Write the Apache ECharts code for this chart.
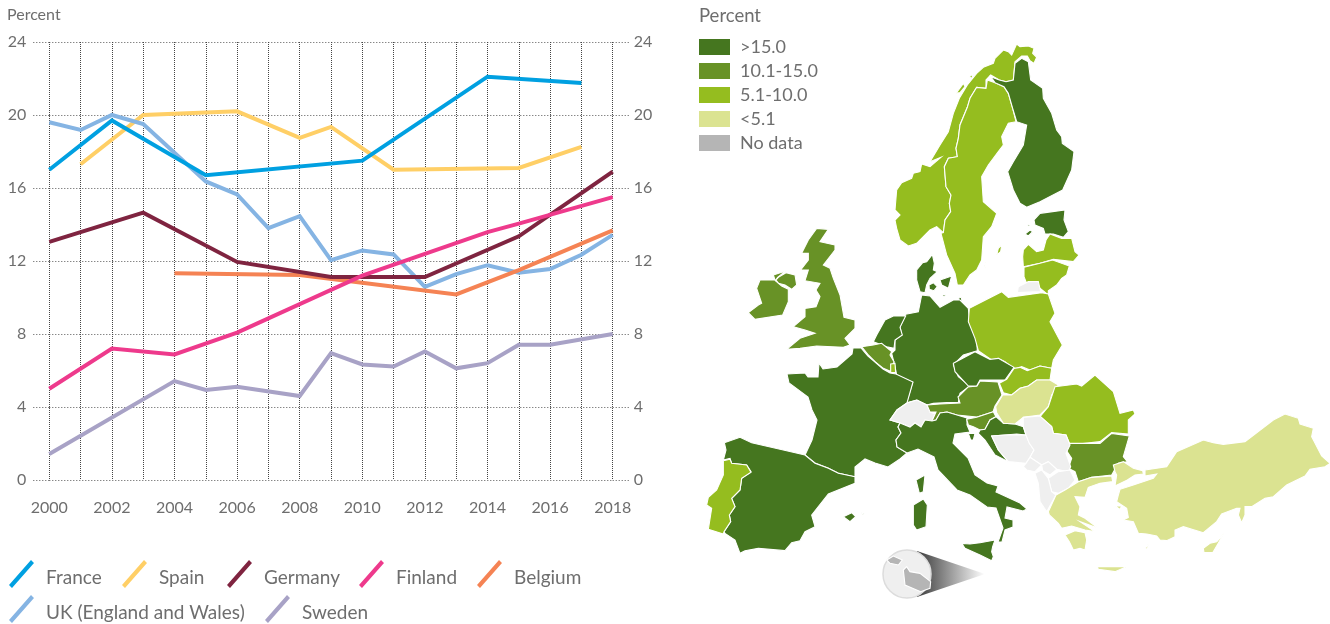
<!DOCTYPE html>
<html>
<head>
<meta charset="utf-8">
<title>Percent</title>
<style>
  html, body { margin: 0; padding: 0; background: #fff; }
  #chart { width: 1330px; height: 624px; }
</style>
<script src="https://cdn.jsdelivr.net/npm/echarts@6/dist/echarts.min.js"></script>
</head>
<body>
<div id="chart"></div>
<script>
// line chart data, null = no reading that year, lines just run over those
const years = ['2000','2001','2002','2003','2004','2005','2006','2007','2008','2009','2010','2011','2012','2013','2014','2015','2016','2017','2018'];
const france  = [17.0,null,19.7,null,null,16.7,null,null,null,null,17.5,null,null,null,22.1,null,null,21.75,null];
const spain   = [null,17.3,null,20.0,null,null,20.2,null,18.75,19.35,null,17.0,null,null,null,17.1,null,18.25,null];
const germany = [13.05,null,null,14.65,null,null,11.95,null,null,11.12,null,null,11.12,null,null,13.35,null,null,16.9];
const finland = [5.0,null,7.2,null,6.88,null,8.08,null,null,null,11.2,null,null,null,13.58,14.05,null,null,15.5];
const belgium = [null,null,null,null,11.33,null,null,null,11.23,null,null,null,null,10.17,null,11.5,null,null,13.68];
const uk      = [19.6,19.18,20.0,19.5,null,16.36,15.65,13.8,14.46,12.05,12.58,12.36,10.58,11.28,11.77,11.36,11.56,12.34,13.43];
const sweden  = [1.42,null,null,null,5.42,4.93,5.11,null,4.6,6.95,6.33,6.22,7.04,6.12,6.4,7.41,7.41,null,8.0];

const lineNames  = ['Spain','Sweden','UK (England and Wales)','Belgium','Germany','Finland','France'];
const lineValues = [spain, sweden, uk, belgium, germany, finland, france];
const lineColors = ['#FFCF66','#A8A2C6','#85B4E3','#F58354','#7F2440','#EE3A8C','#00A0E1'];

// legend order as printed, with where each entry sits
const legendNames = ['France','Spain','Germany','Finland','Belgium','UK (England and Wales)','Sweden'];
const legendLefts = [9,122,227,359,477,9,265];
const legendTops  = [560,560,560,560,560,595,595];

// map classes, values estimated inside the class the colour shows
const classLabels = ['>15.0','10.1-15.0','5.1-10.0','<5.1','No data'];
const classColors = ['#45761F','#689226','#95BD1F','#DBE391','#B5B5B5'];
const mapNames  = ['France','Spain','Germany','Finland','Netherlands','Denmark','Estonia','Czechia','Italy','Sardinia','Corsica','Sicily','Balearics','Croatia','UK','N. Ireland','Ireland','Belgium','Austria','Slovenia','Bulgaria','Norway','Sweden','Latvia','Lithuania','Poland','Slovakia','Romania','Luxembourg','Portugal','Hungary','Greece','Turkey','Cyprus','Malta','Gozo'];
const mapValues = [21.75,18.25,16.9,15.5,16,16,16,16,17,17,17,17,18.25,16,13.4,13.4,12,13.7,12,12,12,8,8,8,8,8,8,8,8,8,4,4,4,4,-1,-1];

const crop = (ox, oy, pts) => {
  const out = [];
  for (let i = 0; i < pts.length; i += 2) out.push([ox + pts[i] / 3, oy + pts[i + 1] / 3]);
  out.push(out[0]);
  return out;
};
const north = pts => crop(880, 30, pts);
const west  = pts => crop(740, 220, pts);
const mid   = pts => crop(940, 280, pts);
const south = pts => crop(690, 420, pts);
const east  = pts => crop(1020, 400, pts);
const page  = pts => crop(0, 0, pts.map(v => v * 3));

const shapes = {
  Norway: [north([410,42,420,50,445,48,462,55,458,70,470,82,462,100,450,92,442,78,425,78,405,95,400,150,378,155,358,150,332,135,318,150,318,175,290,172,270,205,262,232,240,285,235,325,228,355,232,380,205,385,193,410,198,470,213,495,208,520,212,545,195,570,190,608,170,590,150,600,110,640,85,648,60,630,50,595,45,570,60,555,45,540,50,480,65,458,95,445,100,430,120,425,125,402,150,410,183,382,150,395,180,345,205,305,220,250,238,205,262,165,290,130,310,112,340,100,345,85,370,60,385,65,395,75]),
    north([228,190,250,160,255,170,240,188]), north([268,140,280,132,275,145])],
  Sweden: [north([322,150,345,158,372,170,385,190,398,235,408,275,385,280,365,320,370,345,355,365,325,405,305,440,310,515,350,550,335,590,310,620,305,690,290,720,270,735,250,765,232,765,225,730,200,675,183,610,190,608,195,570,212,545,208,520,213,495,198,470,193,410,205,385,232,380,228,355,235,325,240,285,262,232,270,205,290,172,318,175]),
    north([350,675,355,655,365,645,362,665]), north([313,712,318,695,316,715])],
  Finland: [north([405,100,425,85,445,95,452,150,488,175,490,205,515,250,530,300,545,320,547,340,582,365,575,420,548,480,480,515,440,532,420,520,400,480,383,425,400,395,430,345,440,285,410,275,398,235,385,190,372,170,345,158,332,140,358,150,378,155,400,150])],
  Estonia: [north([462,570,480,550,555,540,552,570,565,605,550,622,520,612,495,612,490,595,465,585]),
    north([435,612,450,600,458,605,445,618]), north([443,585,450,582,448,592])],
  Latvia: [north([428,680,430,660,445,643,470,665,490,660,498,630,510,612,545,625,575,625,585,665,597,675,580,695,520,688,480,700,430,710])],
  Lithuania: [north([432,712,480,700,518,690,568,708,560,735,545,745,530,765,505,782,505,795,480,775,440,760,432,740])],
  Kaliningrad: [mid([232,38,235,20,265,5,295,5,302,35])],
  Denmark: [west([530,150,548,128,560,125,577,103,583,130,580,150,592,155,570,175,560,195,555,218,540,215,530,180]),
    west([600,180,635,168,625,205,605,195]), west([567,195,580,188,592,200,582,212,568,208]), west([603,222,618,224,612,230]), west([656,234,664,232,666,244,658,244])],
  Germany: [west([497,283,535,275,545,225,570,228,600,262,640,240,660,240,685,265,690,310,710,355,712,392,670,405,640,435,655,470,690,498,660,520,655,548,620,548,580,550,560,555,530,540,500,548,518,487,470,465,465,440,455,400,465,390,465,360,485,345,480,320])],
  Netherlands: [west([497,288,480,322,487,345,465,360,462,385,440,380,400,365,410,345,435,300,460,288])],
  Belgium: [west([365,380,400,375,425,370,455,395,450,405,462,425,455,455,430,445,405,425,385,405])],
  Luxembourg: [west([452,432,465,430,467,458,452,458])],
  France: [page([787,374,805,373,808,377,818,377,819,363,823,369,837,367,852,354,853,348,861,348,868,356,875,362,883,369,890,373,896,374,913,382,907,403,897,410,890,420,900,423,898,427,901,433,896,440,897,447,907,453,900,459,888,467,875,463,865,459,855,467,855,477,838,473,828,468,815,463,805,455,812,440,817,420,812,410,808,397,789,383])],
  Switzerland: [page([890,420,897,410,907,403,917,400,927,405,930,412,935,414,932,421,925,420,921,427,915,423,910,427,900,423])],
  Austria: [page([927,405,940,404,960,403,958,397,968,387,977,386,980,381,998,382,1002,395,995,406,993,412,977,417,957,415,947,412,940,413,936,420,932,421,936,412,930,412])],
  Italy: [page([900,423,910,427,915,423,921,427,925,420,932,421,936,420,940,413,947,412,957,415,967,418,967,425,970,432,955,434,953,443,968,458,975,475,987,483,998,486,996,492,1020,503,1027,509,1023,511,1007,507,1005,518,1013,520,1013,527,1005,530,1002,542,998,542,1003,528,996,508,987,507,970,495,957,490,938,470,934,457,918,449,907,453,897,447,896,440,901,433,898,427])],
  Sardinia: [south([670,255,700,237,712,255,708,320,680,330,670,315])],
  Corsica: [south([678,180,705,165,700,215,688,220])],
  Sicily: [south([815,370,840,372,870,368,915,360,908,380,905,395,910,410,905,422,870,405,825,385])],
  Balearics: [south([460,290,485,278,497,290,480,305]), south([513,278,525,283,518,285])],
  Spain: [south([103,68,150,52,185,68,280,90,345,105,375,130,415,145,445,160,495,170,495,190,415,222,365,285,375,320,345,335,330,362,305,368,285,392,205,385,165,392,150,400,135,360,105,340,102,335,122,305,118,285,135,260,125,235,150,210,155,175,183,155,170,135,125,130,120,115,100,120,108,90])],
  Portugal: [south([100,122,120,118,125,130,170,135,183,157,155,175,150,210,125,235,135,260,118,285,122,305,102,335,100,342,55,328,65,265,50,255,55,232,80,210,100,165])],
  UK: [west([230,25,265,28,240,65,285,75,285,90,250,135,270,145,280,175,300,225,312,292,345,300,345,325,315,355,330,375,310,382,230,378,180,385,140,388,180,355,225,340,195,330,160,320,195,290,195,265,228,260,240,230,228,210,240,190,195,182,205,150,182,150,205,120,205,100,185,100,205,60,218,42])],
  'N. Ireland': [west([115,172,138,158,165,165,170,195,155,208,135,195,115,190,108,180])],
  Ireland: [west([100,165,137,153,113,172,106,182,125,198,145,208,145,245,128,285,45,298,25,278,55,255,65,250,50,205,60,180,105,180])],
  Poland: [mid([88,85,185,35,205,52,305,38,325,42,345,100,330,125,367,195,340,240,335,265,300,258,270,270,245,260,225,268,195,245,175,235,155,240,115,212,105,175,85,125])],
  Czechia: [mid([40,250,105,215,150,238,175,235,222,262,195,300,120,300,110,318,85,318,45,275])],
  Slovakia: [mid([222,265,240,262,262,272,300,258,335,265,330,300,290,300,265,318,240,325,215,345,190,338,178,310,200,298])],
  Slovenia: [mid([80,418,110,412,160,395,168,410,150,420,135,448,120,450,100,440,85,435])],
  Croatia: [mid([168,410,190,430,225,432,250,440,258,465,230,462,195,465,155,468,175,510,205,545,165,525,135,480,115,460,120,450,135,448,150,420]), mid([85,460,105,460,100,480,92,480])],
  Hungary: [mid([167,380,188,345,215,345,240,325,265,318,290,300,330,300,355,315,335,345,325,380,300,405,250,412,225,432,190,430,170,398])],
  Romania: [mid([300,410,325,380,345,320,410,312,425,318,465,285,520,335,540,400,580,390,585,402,565,420,565,462,515,458,480,485,390,495,378,465,340,460,335,440])],
  Bulgaria: [east([145,130,240,130,275,100,328,108,310,170,322,185,295,190,275,225,215,232,175,245,165,215,145,205,155,175,135,145])],
  Bosnia: [mid([155,468,195,465,258,465,268,490,282,510,270,532,258,550,205,545,175,510])],
  Serbia: [mid([250,412,300,408,335,440,340,460,378,465,390,495,378,520,392,560,385,575,350,568,325,545,305,555,270,532,282,510,268,490,258,465,250,440])],
  Montenegro: [mid([258,550,270,532,305,555,285,575,260,570,250,560])],
  Kosovo: [mid([305,555,325,545,350,568,330,585,308,572])],
  Macedonia: [east([85,235,115,215,150,210,165,240,145,265,115,280,95,275])],
  Albania: [east([45,220,65,210,85,235,95,275,108,285,80,335,60,305,55,250])],
  Greece: [east([108,285,135,270,175,245,215,232,275,228,278,245,240,250,205,262,195,292,165,290,180,320,175,345,195,355,235,385,180,365,225,395,195,390,155,378,125,385,115,370,88,345,85,335]),
    east([135,405,165,392,195,398,200,420,195,450,180,445,160,450,148,425]),
    east([232,500,320,500,285,515,235,508]), east([285,318,305,318,300,328]), east([376,445,386,430,382,448])],
  Turkey: [east([375,210,440,200,470,155,550,120,580,128,610,133,675,125,760,60,795,42,835,55,840,72,880,85,875,110,905,168,930,190,915,200,870,208,855,228,800,255,760,290,735,295,695,320,675,320,675,345,665,368,655,345,660,325,650,325,605,342,590,365,550,398,490,380,465,390,465,410,440,422,420,420,410,408,380,402,355,400,340,365,310,360,325,352,320,325,290,305,295,285,300,268,340,255,400,235,410,222,375,228]),
    east([280,195,310,185,340,205,368,212,370,222,345,225,322,240,285,258,290,225,285,215])],
  Cyprus: [east([612,400,590,425,570,430,550,445,552,458,578,458,590,438])],
  Malta: [south([640,450,650,440,660,455,690,460,722,485,720,505,692,515,645,495])],
  Gozo: [south([590,420,610,408,637,420,625,435,600,430])]
};

const features = Object.keys(shapes).map(name => ({
  type: 'Feature',
  properties: { name: name },
  geometry: { type: 'MultiPolygon', coordinates: shapes[name].map(ring => [ring]) }
}));
echarts.registerMap('europe', { type: 'FeatureCollection', features: features });

const grey = '#6E6E6E';
const textFont = 'Lato';

var myChart = echarts.init(document.getElementById('chart'));

const yAxisBase = {
  type: 'value', min: 0, max: 24, interval: 4,
  axisLine: { show: false }
};

const option = {
  animation: false,
  textStyle: { fontFamily: textFont },
  title: [
    { text: 'Percent', left: 7, top: 7, padding: 0, textStyle: { fontSize: 16, fontWeight: 'normal', color: grey, fontFamily: textFont } },
    { text: 'Percent', left: 699, top: 7, padding: 0, textStyle: { fontSize: 18.5, fontWeight: 'normal', color: grey, fontFamily: textFont } }
  ],
  grid: { left: 49.3, right: 717.3, top: 42, bottom: 144 },
  xAxis: {
    type: 'category',
    data: years,
    boundaryGap: false,
    axisLine: { show: false },
    axisTick: { show: false },
    axisLabel: { interval: 1, margin: 20, fontSize: 16, color: grey, showMaxLabel: true, hideOverlap: false },
    splitLine: { show: true, interval: 0, lineStyle: { type: [1, 1], color: '#444', width: 1 } }
  },
  yAxis: [
    Object.assign({}, yAxisBase, {
      position: 'left',
      axisTick: { show: true, length: 18, lineStyle: { type: [1, 2], color: '#555' } },
      axisLabel: { margin: 23, fontSize: 16, color: grey },
      splitLine: { show: true, lineStyle: { type: [1, 2], color: '#555', width: 1 } }
    }),
    Object.assign({}, yAxisBase, {
      position: 'right',
      axisTick: { show: true, length: 16, lineStyle: { type: [1, 2], color: '#555' } },
      axisLabel: { margin: 21, fontSize: 16, color: grey },
      splitLine: { show: false }
    })
  ],
  legend: legendNames.map((name, i) => ({
    data: [name],
    left: legendLefts[i],
    top: legendTops[i],
    orient: 'horizontal',
    padding: 0,
    itemWidth: 25,
    itemHeight: 36,
    itemGap: 0,
    // second subpath has no area, it only pushes the stroke up against the text
    icon: 'path://M0 25 L22 0 L25 3 L3 28 Z M0 36 L0.01 36 Z',
    selectedMode: false,
    textStyle: { fontSize: 19, color: grey, padding: [0, 0, 0, 7] }
  })),
  visualMap: {
    type: 'piecewise',
    seriesIndex: lineNames.length,
    orient: 'vertical',
    align: 'left',
    left: 699,
    top: 38,
    itemWidth: 31,
    itemHeight: 16,
    itemGap: 6,
    textGap: 10,
    itemSymbol: 'rect',
    selectedMode: false,
    hoverLink: false,
    padding: 0,
    textStyle: { fontSize: 18, color: grey },
    pieces: [
      { gt: 15, label: classLabels[0], color: classColors[0] },
      { gt: 10, lte: 15, label: classLabels[1], color: classColors[1] },
      { gt: 5, lte: 10, label: classLabels[2], color: classColors[2] },
      { gte: 0, lte: 5, label: classLabels[3], color: classColors[3] },
      { lt: 0, label: classLabels[4], color: classColors[4] }
    ]
  },
  graphic: [
    {
      type: 'polygon', z: 1, silent: true,
      shape: { points: [[917, 551], [985, 574], [917, 597]] },
      style: { fill: new echarts.graphic.LinearGradient(0, 0, 1, 0, [
        { offset: 0, color: '#3A3A3A' }, { offset: 1, color: '#FFFFFF' }
      ]) }
    },
    {
      type: 'circle', z: 1, silent: true,
      shape: { cx: 907, cy: 574, r: 24 },
      style: { fill: '#EFEFEF', stroke: '#DCDCDC', lineWidth: 1.5 }
    }
  ],
  series: lineNames.map((name, i) => ({
    name: name,
    type: 'line',
    data: lineValues[i],
    connectNulls: true,
    showSymbol: false,
    symbol: 'none',
    silent: true,
    color: lineColors[i],
    lineStyle: { width: 4, join: 'miter', cap: 'butt' }
  })).concat([{
    type: 'map',
    map: 'europe',
    silent: true,
    roam: false,
    showLegendSymbol: false,
    projection: { project: p => p, unproject: p => p },
    boundingCoords: [[0, 0], [1330, 624]],
    left: 0, top: 0, width: 1330, height: 624,
    label: { show: false },
    emphasis: { disabled: true },
    select: { disabled: true },
    itemStyle: { areaColor: '#EFEFEF', borderColor: '#FFFFFF', borderWidth: 1.1 },
    data: mapNames.map((name, i) => ({ name: name, value: mapValues[i] }))
  }])
};

myChart.setOption(option);
</script>
</body>
</html>
